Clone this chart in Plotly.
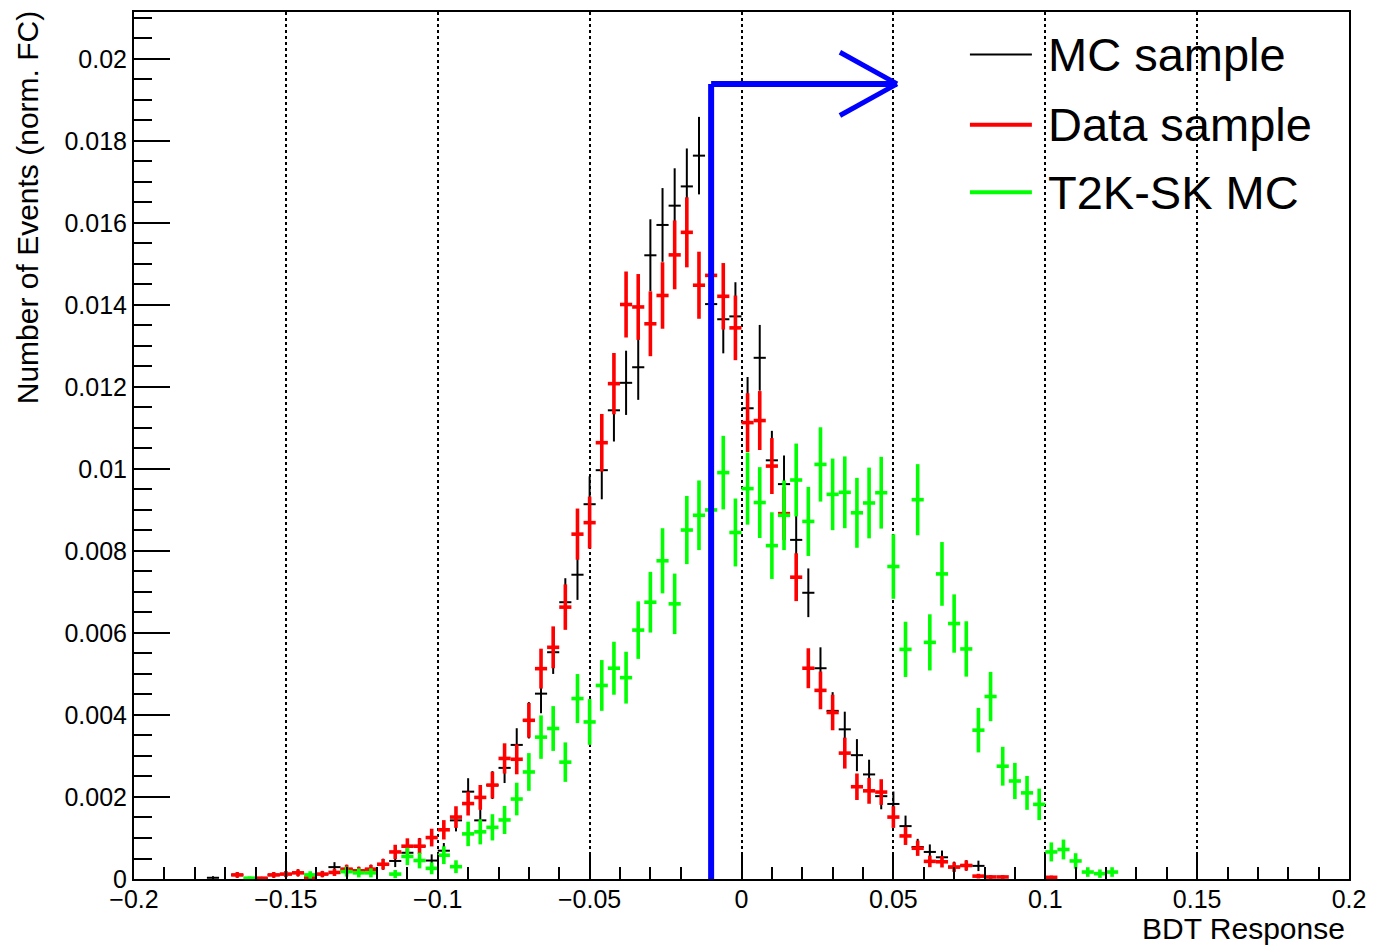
import plotly.graph_objects as go

# ---------------- data (bin centres, bin width 0.004) ----------------
bin_centers = [-0.174, -0.170, -0.166, -0.162, -0.158, -0.154, -0.150, -0.146, -0.142, -0.138,
               -0.134, -0.130, -0.126, -0.122, -0.118, -0.114, -0.110, -0.106, -0.102, -0.098,
               -0.094, -0.090, -0.086, -0.082, -0.078, -0.074, -0.070, -0.066, -0.062, -0.058,
               -0.054, -0.050, -0.046, -0.042, -0.038, -0.034, -0.030, -0.026, -0.022, -0.018,
               -0.014, -0.010, -0.006, -0.002, 0.002, 0.006, 0.010, 0.014, 0.018, 0.022,
               0.026, 0.030, 0.034, 0.038, 0.042, 0.046, 0.050, 0.054, 0.058, 0.062,
               0.066, 0.070, 0.074, 0.078, 0.082, 0.086, 0.090, 0.094, 0.098, 0.102,
               0.106, 0.110, 0.114, 0.118, 0.122]
half_bin = 0.002

# values in units of 1e-3
mc_sample = [0.03, None, 0.10, None, 0.02, 0.10, 0.12, 0.15, 0.03, 0.12,
             0.29, 0.24, 0.20, 0.24, 0.36, 0.44, 0.64, 0.80, 0.45, 0.69,
             1.43, 2.13, 1.43, 2.29, 2.71, 3.27, 3.87, 4.52, 5.53, 6.75,
             7.42, 9.14, 9.97, 11.43, 12.10, 12.48, 15.21, 15.95, 16.42, 16.89,
             17.64, 14.02, 13.65, 13.72, 11.48, 12.71, 10.21, 9.63, 8.27, 6.98,
             5.14, 4.10, 3.65, 3.02, 2.55, 2.02, 1.83, 1.29, 0.78, 0.66,
             0.53, 0.30, 0.33, 0.32, None, None, None, None, None, None,
             None, None, None, None, None]
mc_sample_err = [0.039, None, 0.071, None, 0.032, 0.071, 0.078, 0.087, 0.039, 0.078,
                 0.121, 0.110, 0.101, 0.110, 0.135, 0.149, 0.180, 0.201, 0.151, 0.187,
                 0.269, 0.328, 0.269, 0.340, 0.370, 0.407, 0.443, 0.478, 0.529, 0.585,
                 0.613, 0.680, 0.710, 0.761, 0.783, 0.795, 0.878, 0.899, 0.912, 0.925,
                 0.945, 0.842, 0.831, 0.833, 0.762, 0.802, 0.719, 0.698, 0.647, 0.594,
                 0.510, 0.456, 0.430, 0.391, 0.359, 0.320, 0.304, 0.256, 0.199, 0.183,
                 0.164, 0.123, 0.129, 0.127, None, None, None, None, None, None,
                 None, None, None, None, None]

data_sample = [None, None, 0.10, None, 0.02, 0.10, 0.12, 0.15, 0.03, 0.12,
               0.16, 0.24, 0.20, 0.24, 0.36, 0.66, 0.80, 0.80, 1.01, 1.20,
               1.51, 1.84, 1.99, 2.29, 2.94, 2.92, 3.87, 5.13, 5.65, 6.63,
               8.41, 8.69, 10.64, 12.08, 14.01, 13.95, 13.54, 14.23, 15.22, 15.77,
               14.48, 14.72, 14.21, 13.44, 11.13, 11.18, 10.07, 8.91, 7.36, 5.14,
               4.60, 4.06, 3.07, 2.25, 2.15, 2.12, 1.51, 1.05, 0.75, 0.43,
               0.42, 0.29, 0.33, 0.07, 0.05, 0.05, None, None, None, 0.04,
               None, None, None, None, None]
data_sample_err = [None, None, 0.068, None, 0.030, 0.068, 0.074, 0.083, 0.037, 0.074,
                   0.086, 0.105, 0.096, 0.105, 0.129, 0.175, 0.192, 0.192, 0.216, 0.236,
                   0.264, 0.292, 0.303, 0.325, 0.369, 0.367, 0.423, 0.487, 0.511, 0.554,
                   0.624, 0.634, 0.701, 0.747, 0.805, 0.803, 0.791, 0.811, 0.839, 0.854,
                   0.818, 0.825, 0.811, 0.788, 0.717, 0.719, 0.682, 0.642, 0.583, 0.487,
                   0.461, 0.433, 0.377, 0.323, 0.315, 0.313, 0.264, 0.220, 0.186, 0.141,
                   0.139, 0.116, 0.123, 0.057, 0.048, 0.048, None, None, None, 0.043,
                   None, None, None, None, None]

t2k_sk_mc = [None, None, None, 0.02, None, None, None, None, 0.10, None,
             None, 0.18, 0.15, 0.15, None, 0.12, 0.55, 0.45, 0.26, 0.58,
             0.30, 1.10, 1.15, 1.26, 1.44, 1.95, 2.61, 3.46, 3.67, 2.85,
             4.40, 3.83, 4.72, 5.14, 4.91, 6.07, 6.75, 7.76, 6.71, 8.51,
             8.87, 9.00, 9.91, 8.45, 9.52, 9.18, 8.13, 8.87, 9.73, 8.72,
             10.11, 9.38, 9.43, 8.93, 9.17, 9.42, 7.62, 5.60, 9.25, 5.77,
             7.44, 6.23, 5.61, 3.63, 4.45, 2.75, 2.39, 2.10, 1.82, 0.66,
             0.72, 0.44, 0.17, 0.13, 0.17]
t2k_sk_mc_err = [None, None, None, 0.040, None, None, None, None, 0.090, None,
                 None, 0.121, 0.110, 0.110, None, 0.099, 0.211, 0.191, 0.145, 0.217,
                 0.156, 0.299, 0.306, 0.320, 0.342, 0.398, 0.460, 0.530, 0.546, 0.481,
                 0.598, 0.558, 0.619, 0.646, 0.632, 0.702, 0.740, 0.794, 0.738, 0.831,
                 0.849, 0.855, 0.897, 0.828, 0.879, 0.864, 0.813, 0.849, 0.889, 0.842,
                 0.906, 0.873, 0.875, 0.852, 0.863, 0.875, 0.787, 0.674, 0.867, 0.685,
                 0.777, 0.711, 0.675, 0.543, 0.601, 0.473, 0.441, 0.413, 0.384, 0.232,
                 0.242, 0.189, 0.117, 0.103, 0.117]

unit = 1e-3

# cut arrow
cut_value = -0.01
arrow_level = 0.01939
arrow_tip = 0.0512
arrow_head_x = 0.0324
arrow_head_dy = 0.00077

x_tick_vals = [-0.2, -0.15, -0.1, -0.05, 0, 0.05, 0.1, 0.15, 0.2]
x_tick_text = ["\u22120.2", "\u22120.15", "\u22120.1", "\u22120.05", "0", "0.05", "0.1", "0.15", "0.2"]
y_tick_vals = [0, 0.002, 0.004, 0.006, 0.008, 0.01, 0.012, 0.014, 0.016, 0.018, 0.02]
y_tick_text = ["0", "0.002", "0.004", "0.006", "0.008", "0.01", "0.012", "0.014", "0.016", "0.018", "0.02"]

FONT = "Liberation Sans, Arial, Helvetica, sans-serif"


def scale(vals):
    return [None if v is None else v * unit for v in vals]


def hist_trace(vals, errs, color, thick, name):
    return go.Scatter(
        x=bin_centers, y=scale(vals), mode="markers", name=name, showlegend=False,
        marker=dict(size=1, color=color),
        error_y=dict(type="data", array=scale(errs), visible=True, color=color,
                     thickness=thick, width=0),
        error_x=dict(type="constant", value=half_bin, visible=True, color=color,
                     thickness=thick, width=0),
        hoverinfo="skip")


fig = go.Figure()
fig.add_trace(hist_trace(mc_sample, mc_sample_err, "#000000", 2, "MC sample"))
fig.add_trace(hist_trace(data_sample, data_sample_err, "#ff0000", 3.6, "Data sample"))
fig.add_trace(hist_trace(t2k_sk_mc, t2k_sk_mc_err, "#00ff00", 3.6, "T2K-SK MC"))

blue = dict(color="#0000ff", width=6)
shapes = [
    dict(type="line", xref="x", yref="y", x0=cut_value, y0=0, x1=cut_value, y1=arrow_level, line=blue, layer="above"),
    dict(type="line", xref="x", yref="y", x0=cut_value, y0=arrow_level, x1=arrow_tip, y1=arrow_level, line=blue, layer="above"),
    dict(type="line", xref="x", yref="y", x0=arrow_head_x, y0=arrow_level + arrow_head_dy, x1=arrow_tip, y1=arrow_level, line=dict(color="#0000ff", width=5), layer="above"),
    dict(type="line", xref="x", yref="y", x0=arrow_head_x, y0=arrow_level - arrow_head_dy, x1=arrow_tip, y1=arrow_level, line=dict(color="#0000ff", width=5), layer="above"),
]

# manual legend
legend_entries = [("MC sample", "#000000", 2, 0.951),
                  ("Data sample", "#ff0000", 4, 0.870),
                  ("T2K-SK MC", "#00ff00", 4, 0.792)]
annotations = []
for label, col, w, yp in legend_entries:
    shapes.append(dict(type="line", xref="paper", yref="paper", x0=0.688, x1=0.739, y0=yp, y1=yp,
                       line=dict(color=col, width=w)))
    annotations.append(dict(xref="paper", yref="paper", x=0.751, y=yp, text=label, showarrow=False,
                            xanchor="left", yanchor="middle", font=dict(family=FONT, size=47, color="black")))

annotations.append(dict(xref="paper", yref="paper", x=-0.087, y=0.774, text="Number of Events (norm. FC)",
                        textangle=-90, showarrow=False, xanchor="center", yanchor="middle",
                        font=dict(family=FONT, size=30, color="black")))
annotations.append(dict(xref="paper", yref="paper", x=0.9984, y=-0.0575, text="BDT Response",
                        showarrow=False, xanchor="right", yanchor="middle",
                        font=dict(family=FONT, size=30, color="black")))

# the page body has an 8px margin; the figure is sized so the plot frame lands at
# x 134..1349, y 10..879 in the window
fig.update_layout(
    width=1366, height=939, autosize=False,
    margin=dict(l=126, r=25, t=2, b=68),
    paper_bgcolor="white", plot_bgcolor="white",
    showlegend=False,
    shapes=shapes, annotations=annotations,
    font=dict(family=FONT, size=24, color="black"),
    xaxis=dict(range=[-0.2, 0.2], tickvals=x_tick_vals, ticktext=x_tick_text,
               ticks="inside", ticklen=24, tickwidth=1.5, tickcolor="black",
               showline=True, linecolor="black", linewidth=2, mirror=True,
               showgrid=True, gridcolor="black", griddash="dot", gridwidth=1.5,
               zeroline=False, tickfont=dict(family=FONT, size=25),
               ticklabelstandoff=-3,
               minor=dict(dtick=0.01, ticks="inside", ticklen=12, tickwidth=1.5,
                          tickcolor="black", showgrid=False)),
    yaxis=dict(range=[0, 0.021143], tickvals=y_tick_vals, ticktext=y_tick_text,
               ticks="inside", ticklen=36, tickwidth=1.5, tickcolor="black",
               showline=True, linecolor="black", linewidth=2, mirror=True,
               showgrid=False, zeroline=False, tickfont=dict(family=FONT, size=25),
               minor=dict(dtick=0.0005, ticks="inside", ticklen=18, tickwidth=1.5,
                          tickcolor="black", showgrid=False)),
)

fig.write_html("out.html")
